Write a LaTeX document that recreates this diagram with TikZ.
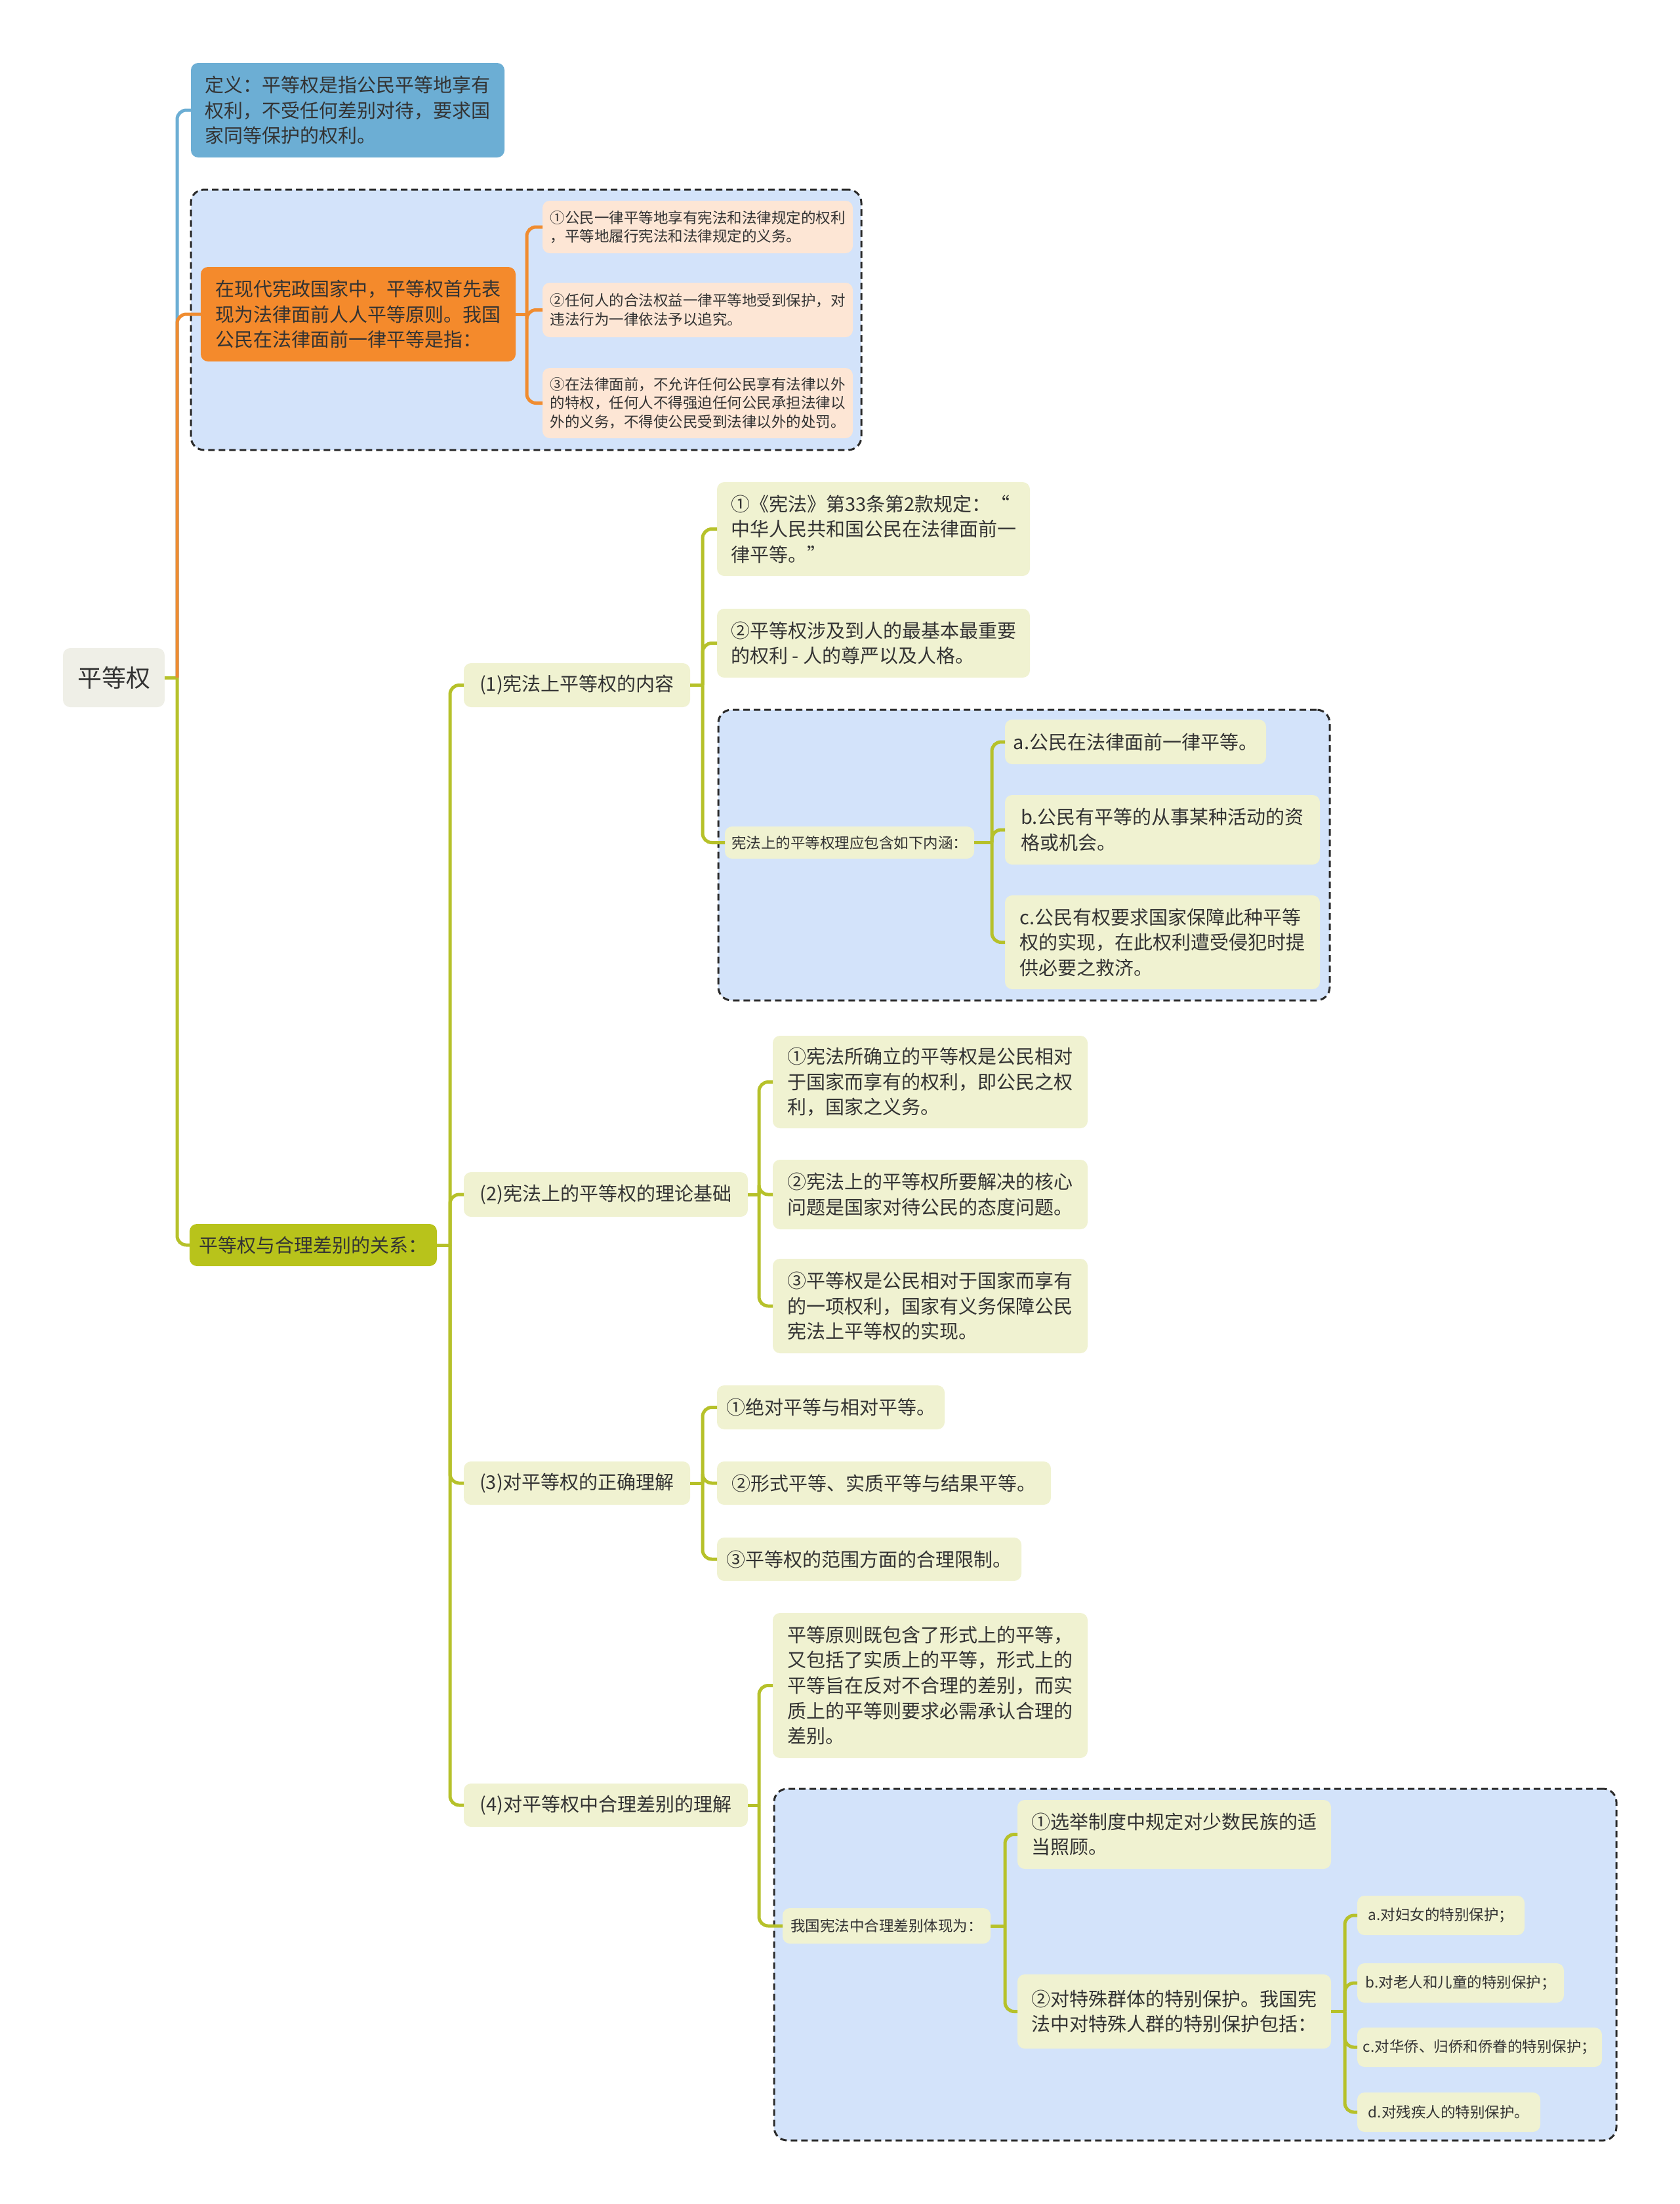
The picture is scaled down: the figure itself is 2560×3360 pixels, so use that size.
\documentclass[tikz,border=0pt]{standalone}
\usepackage{fontspec}
\setmainfont{Noto Sans CJK SC}
\definecolor{txt}{HTML}{333333}
\definecolor{rootfill}{HTML}{EFEFE7}
\definecolor{defblue}{HTML}{6CAED4}
\definecolor{orfill}{HTML}{F48A2C}
\definecolor{peachfill}{HTML}{FDE6D5}
\definecolor{litefill}{HTML}{F0F2D1}
\definecolor{gfill}{HTML}{B8C31B}
\definecolor{grpfill}{HTML}{D3E3FA}
\definecolor{dashc}{HTML}{2A2A2A}
\definecolor{gline}{HTML}{B6C12A}
\definecolor{oline}{HTML}{F08C30}
\definecolor{bline}{HTML}{6CAED4}
\newcommand\fmain{\fontsize{29}{38.6}\selectfont}
\newcommand\fsmall{\fontsize{22.5}{28.5}\selectfont}
\newcommand\froot{\fontsize{37}{44}\selectfont}
\newcommand\bnode[7]{\node[#6, minimum width={#4-#2}, minimum height={#5-#3}] (#1) at ({(#2+#4)/2},{(#3+#5)/2}) {#7};}
\newcommand\kids[4]{%
  \draw[#1] (#2.east) -- ++(#3,0) coordinate (#2-j);
  \foreach \c in {#4} {\draw[#1] (#2-j) |- (\c.west);}}
\tikzset{
  box/.style={rounded corners=11pt, inner sep=0pt, outer sep=0pt, align=left, text=txt},
  rootbox/.style={box, fill=rootfill, font=\froot},
  defbox/.style={box, fill=defblue, font=\fmain},
  orbox/.style={box, fill=orfill, font=\fmain},
  peach/.style={box, fill=peachfill, font=\fsmall},
  lite/.style={box, fill=litefill, font=\fmain},
  litesm/.style={box, fill=litefill, font=\fsmall},
  gnode/.style={box, fill=gfill, font=\fmain},
  grp/.style={draw=dashc, fill=grpfill, line width=3pt, dash pattern=on 10pt off 6pt, rounded corners=20pt, inner sep=0pt, outer sep=0pt},
  gl/.style={draw=gline, line width=5pt, rounded corners=14pt},
  ol/.style={draw=oline, line width=5pt, rounded corners=14pt},
  bl/.style={draw=bline, line width=5pt, rounded corners=14pt},
}
\begin{document}
\begin{tikzpicture}[x=1pt,y=-1pt]
\fill[white] (0,0) rectangle (2560,3360);
\useasboundingbox (0,0) rectangle (2560,3360);
% groups
\bnode{g1}{291}{289}{1313}{686}{grp}{}
\bnode{g2}{1095}{1082}{2027}{1525}{grp}{}
\bnode{g3}{1180}{2727}{2464}{3263}{grp}{}
% nodes
\bnode{root}{96}{988}{251}{1078}{rootbox}{平等权}
\bnode{def}{291}{96}{769}{240}{defbox}{定义：平等权是指公民平等地享有\\权利，不受任何差别对待，要求国\\家同等保护的权利。}
\bnode{orange}{306}{407}{786}{551}{orbox}{在现代宪政国家中，平等权首先表\\现为法律面前人人平等原则。我国\\公民在法律面前一律平等是指：}
\bnode{o1}{827}{306}{1300}{386}{peach}{①公民一律平等地享有宪法和法律规定的权利\\，平等地履行宪法和法律规定的义务。}
\bnode{o2}{827}{431}{1300}{514}{peach}{②任何人的合法权益一律平等地受到保护，对\\违法行为一律依法予以追究。}
\bnode{o3}{827}{561}{1300}{668}{peach}{③在法律面前，不允许任何公民享有法律以外\\的特权，任何人不得强迫任何公民承担法律以\\外的义务，不得使公民受到法律以外的处罚。}
\bnode{green}{289}{1866}{666}{1930}{gnode}{平等权与合理差别的关系：}
\bnode{n1}{707}{1011}{1052}{1078}{lite}{(1)宪法上平等权的内容}
\bnode{n2}{707}{1787}{1140}{1855}{lite}{(2)宪法上的平等权的理论基础}
\bnode{n3}{707}{2228}{1052}{2294}{lite}{(3)对平等权的正确理解}
\bnode{n4}{707}{2719}{1140}{2785}{lite}{(4)对平等权中合理差别的理解}
\bnode{n1a}{1093}{735}{1570}{878}{lite}{①《宪法》第33条第2款规定：“\\中华人民共和国公民在法律面前一\\律平等。”}
\bnode{n1b}{1093}{928}{1570}{1033}{lite}{②平等权涉及到人的最基本最重要\\的权利 - 人的尊严以及人格。}
\bnode{n1c}{1105}{1260}{1485}{1309}{litesm}{宪法上的平等权理应包含如下内涵：}
\bnode{n1ca}{1532}{1097}{1930}{1165}{lite}{a.公民在法律面前一律平等。}
\bnode{n1cb}{1532}{1212}{2012}{1318}{lite}{b.公民有平等的从事某种活动的资\\格或机会。}
\bnode{n1cc}{1532}{1365}{2012}{1508}{lite}{c.公民有权要求国家保障此种平等\\权的实现，在此权利遭受侵犯时提\\供必要之救济。}
\bnode{n2a}{1178}{1579}{1658}{1720}{lite}{①宪法所确立的平等权是公民相对\\于国家而享有的权利，即公民之权\\利，国家之义务。}
\bnode{n2b}{1178}{1768}{1658}{1874}{lite}{②宪法上的平等权所要解决的核心\\问题是国家对待公民的态度问题。}
\bnode{n2c}{1178}{1919}{1658}{2063}{lite}{③平等权是公民相对于国家而享有\\的一项权利，国家有义务保障公民\\宪法上平等权的实现。}
\bnode{n3a}{1093}{2112}{1440}{2179}{lite}{①绝对平等与相对平等。}
\bnode{n3b}{1093}{2228}{1602}{2294}{lite}{②形式平等、实质平等与结果平等。}
\bnode{n3c}{1093}{2344}{1557}{2410}{lite}{③平等权的范围方面的合理限制。}
\bnode{n4a}{1178}{2459}{1658}{2680}{lite}{平等原则既包含了形式上的平等，\\又包括了实质上的平等，形式上的\\平等旨在反对不合理的差别，而实\\质上的平等则要求必需承认合理的\\差别。}
\bnode{n4b}{1193}{2909}{1510}{2963}{litesm}{我国宪法中合理差别体现为：}
\bnode{n4b1}{1551}{2744}{2029}{2849}{lite}{①选举制度中规定对少数民族的适\\当照顾。}
\bnode{n4b2}{1551}{3010}{2029}{3123}{lite}{②对特殊群体的特别保护。我国宪\\法中对特殊人群的特别保护包括：}
\bnode{pa}{2069}{2890}{2324}{2950}{litesm}{a.对妇女的特别保护；}
\bnode{pb}{2069}{2993}{2384}{3053}{litesm}{b.对老人和儿童的特别保护；}
\bnode{pc}{2069}{3091}{2442}{3151}{litesm}{c.对华侨、归侨和侨眷的特别保护；}
\bnode{pd}{2069}{3190}{2348}{3250}{litesm}{d.对残疾人的特别保护。}
% connectors
\draw[gl] (root.east) -- ++(19,0) coordinate (rj);
\draw[bl] (rj) |- (def.west);
\draw[ol] (rj) |- (orange.west);
\draw[gl] (rj) |- (green.west);
\kids{ol}{orange}{17}{o1,o2,o3}
\kids{gl}{green}{20}{n1,n2,n3,n4}
\kids{gl}{n1}{19}{n1a,n1b,n1c}
\kids{gl}{n1c}{27}{n1ca,n1cb,n1cc}
\kids{gl}{n2}{17}{n2a,n2b,n2c}
\kids{gl}{n3}{19}{n3a,n3b,n3c}
\kids{gl}{n4}{17}{n4a,n4b}
\kids{gl}{n4b}{22}{n4b1,n4b2}
\kids{gl}{n4b2}{21}{pa,pb,pc,pd}
\end{tikzpicture}
\end{document}
